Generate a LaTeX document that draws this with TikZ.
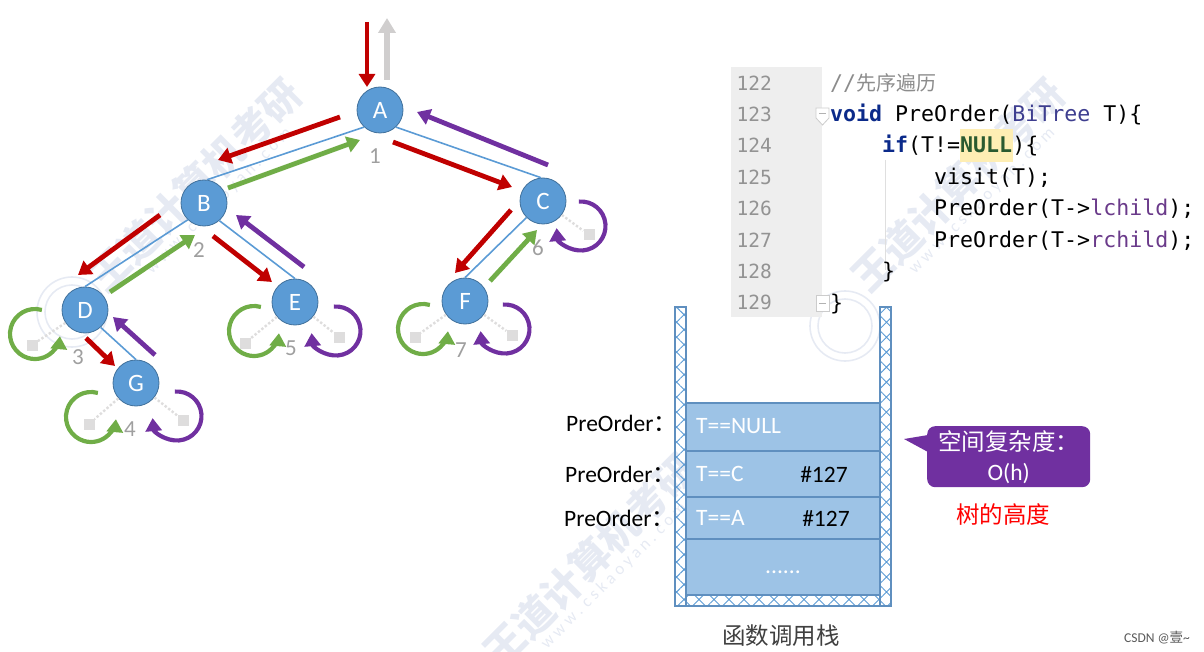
\documentclass[tikz,border=0pt]{standalone}
\usepackage{fontspec}
\setmainfont{Carlito}
\setmonofont{DejaVu Sans Mono}
\newfontfamily\cjk{Noto Sans CJK SC}
\usetikzlibrary{arrows.meta,calc,patterns.meta}
\definecolor{treeblue}{HTML}{5B9BD5}
\definecolor{treeedge}{HTML}{41719C}
\definecolor{redpin}{HTML}{C00000}
\definecolor{greenpin}{HTML}{70AD47}
\definecolor{purplepin}{HTML}{7030A0}
\definecolor{graypin}{HTML}{D0CECE}
\definecolor{framefill}{HTML}{9DC3E6}
\definecolor{frameedge}{HTML}{5F8FBF}
\definecolor{kwblue}{HTML}{0B2A8A}
\definecolor{typeblue}{HTML}{3E3E8F}
\definecolor{fieldpurple}{HTML}{6A3A8A}
\definecolor{nullgreen}{HTML}{2A5A30}
\definecolor{mark}{HTML}{E6EAF3}
\tikzset{pin/.style={line width=4.8pt,-{Triangle[length=13pt,width=16pt]}},
  loopl/.style={pin,greenpin,line width=4.2pt},
  loopr/.style={pin,purplepin,line width=4.2pt},
  tnode/.style={circle,draw=treeedge,thick,fill=treeblue,minimum size=46pt,inner sep=0pt,text=white,font=\fontsize{25}{25}\selectfont},
  tedge/.style={treeblue,line width=1.6pt},
  nullbox/.style={fill=graypin!70,minimum size=11pt,inner sep=0pt},
  nullline/.style={graypin!70,line width=2.4pt,dotted},
  seq/.style={text=gray!75,font=\fontsize{23}{23}\selectfont},
  lineno/.style={anchor=west,text=gray!85,font=\ttfamily\fontsize{19.5}{20}\selectfont},
  codeln/.style={anchor=west,inner sep=0pt,text height=18pt,text depth=2pt,font=\ttfamily\fontsize{21.6}{22}\selectfont},
  fold/.style={draw=gray!40,fill=white,line width=.8pt},
  wall/.style={draw=frameedge,line width=1.2pt,pattern={Hatch[distance=10.6pt,angle=45,line width=.9pt,xshift=2pt]},pattern color=treeblue},
  frame/.style={draw=frameedge,line width=1.5pt,fill=framefill,minimum width=194pt,inner sep=0pt,outer sep=0pt,anchor=north west},
  stacktext/.style={text=white,font=\fontsize{23.5}{24}\selectfont},
  calltext/.style={font=\fontsize{23.5}{24}\selectfont},
  wmark/.style={text=mark,rotate=45,font=\cjk\bfseries\fontsize{40}{40}\selectfont},
  wsite/.style={text=mark,rotate=45,font=\fontsize{17}{17}\selectfont},
  wseal/.style={draw=mark,line width=1.6pt}}
\begin{document}
\begin{tikzpicture}[x=1pt,y=-1pt]
  \useasboundingbox (0,0) rectangle (1204,652);
  \begin{scope}
    \clip (0,0) rectangle (1204,652);
    \foreach \i/\cx/\cy in {a/195/185, b/590/560, c/958/185}{
      \node[wmark] (wm\i) at (\cx,\cy) {王道计算机考研};
      \node[wsite] (ws\i) at (\cx+24,\cy+16) {w w w . c s k a o y a n . c o m};
    }
    \foreach \x/\y in {72/312, 845/326}{
      \draw[wseal] (\x,\y) circle (35);
      \draw[wseal] (\x,\y) circle (27);
    }
  \end{scope}
  % tree
  \node[tnode] (A) at (380,110) {A};
  \node[tnode] (B) at (204,203) {B};
  \node[tnode] (C) at (543,201) {C};
  \node[tnode] (D) at (85,310) {D};
  \node[tnode] (E) at (295,302) {E};
  \node[tnode] (F) at (465,301) {F};
  \node[tnode] (G) at (136,383) {G};
  \foreach \a/\aa/\b/\ba in {A/227/B/83, A/313/C/95, B/226/D/90, B/311/E/90, C/225/F/90, D/312/G/90}{
    \draw[tedge] (\a.\aa) -- (\b.\ba);
  }
  \foreach \n/\t/\x/\y in {s1/1/375/156, s2/2/199/250, s3/3/78/357, s4/4/130/429, s5/5/291/348, s6/6/538/248, s7/7/461/350}{
    \node[seq] (\n) at (\x,\y) {\t};
  }
  \foreach \a/\ax/\ay/\b/\bx/\by in {A/-40/7/B/14/-43, A/13/32/C/-31/-14, B/-44/12/D/-7/-35, B/9/33/E/-23/-20, C/-32/9/F/-10/-28, D/1/28/G/-21/-17}{
    \draw[pin,redpin] ($(\a)+(\ax,\ay)$) -- ($(\b)+(\bx,\by)$);
  }
  \foreach \a/\ax/\ay/\b/\bx/\by in {B/24/-15/A/-20/30, D/25/-18/B/-9/32, F/25/-20/C/-6/29}{
    \draw[pin,greenpin] ($(\a)+(\ax,\ay)$) -- ($(\b)+(\bx,\by)$);
  }
  \foreach \a/\ax/\ay/\b/\bx/\by in {C/5/-36/A/37/2, E/9/-35/B/32/12, G/19/-28/D/28/7}{
    \draw[pin,purplepin] ($(\a)+(\ax,\ay)$) -- ($(\b)+(\bx,\by)$);
  }
  \coordinate (in) at (367,22);
  \coordinate (out) at (387,18);
  \draw[pin,redpin] (in) -- ($(A)+(-13,-23)$);
  \draw[pin,graypin,line width=6.5pt,-{Triangle[length=15pt,width=17pt]}] ($(A)+(7,-30)$) -- (out);
  % null children
  \foreach \n/\dx/\dy/\cx/\cy in {D/-53/35/-50/24, E/-50/41/-41/29, F/-50/36/-42/28, G/-47/41/-45/34}{
    \node[nullbox] (\n l) at ($(\n)+(\dx,\dy)$) {};
    \draw[nullline] (\n) -- (\n l);
    \draw[loopl] ($(\n)+(\cx,\cy)+(-74:25)$) arc (-74:-355:25);
  }
  \foreach \n/\dx/\dy/\cx/\cy in {C/46/34/38/25, E/44/35/41/29, F/47/34/40/28, G/47/37/41/33}{
    \node[nullbox] (\n r) at ($(\n)+(\dx,\dy)$) {};
    \draw[nullline] (\n) -- (\n r);
    \draw[loopr] ($(\n)+(\cx,\cy)+(-95:24.5)$) arc (-95:175:24.5);
  }
  % code
  \node[fill=gray!13,minimum width=91pt,minimum height=250pt,inner sep=0pt,anchor=north west] (gutter) at (731,67) {};
  \node[fill=yellow!60!orange!28,minimum width=53pt,minimum height=33pt,inner sep=0pt] (hl) at (986.5,145.5) {};
  \foreach \t/\y in {122/83, 123/114, 124/145, 125/177, 126/208, 127/240, 128/271, 129/302}{
    \node[lineno] (n\t) at (733,\y) {\t};
  }
  \draw[gray!25,line width=.8pt] (885,160) -- (885,270);
  \draw[fold] (816,108) -- (829,108) -- (829,118) -- (822.5,125) -- (816,118) -- cycle;
  \draw[fold] (816,295) -- (829,295) -- (829,311) -- (816,311) -- cycle;
  \draw[gray!60,line width=.8pt] (819,113.5) -- (826,113.5) (819,303) -- (826,303);
  \node[codeln,text=gray!90] (l122) at (830,83) {//{\cjk\fontsize{20}{20}\selectfont 先序遍历}};
  \node[codeln] (l123) at (830,114) {\textcolor{kwblue}{\bfseries void} PreOrder(\textcolor{typeblue}{BiTree} T)\{};
  \node[codeln] (l124) at (882,145) {\textcolor{kwblue}{\bfseries if}(T!=\textcolor{nullgreen}{\bfseries NULL})\{};
  \node[codeln] (l125) at (934,177) {visit(T);};
  \node[codeln] (l126) at (934,208) {PreOrder(T->\textcolor{fieldpurple}{lchild});};
  \node[codeln] (l127) at (934,240) {PreOrder(T->\textcolor{fieldpurple}{rchild});};
  \node[codeln] (l128) at (882,271) {\}};
  \node[codeln] (l129) at (830,302) {\}};
  % stack
  \draw[wall] (675,307) rectangle (686,606);
  \draw[wall] (880,307) rectangle (891,606);
  \draw[wall] (686,595) rectangle (880,606);
  \node[frame,minimum height=48pt] (f1) at (686,403) {};
  \node[frame,minimum height=46pt] (f2) at (f1.south west) {};
  \node[frame,minimum height=42pt] (f3) at (f2.south west) {};
  \node[frame,minimum height=56pt] (f4) at (f3.south west) {};
  \node[stacktext,anchor=west,inner sep=0pt] (t1) at (696,426) {T==NULL};
  \node[stacktext,anchor=west,inner sep=0pt] (t2) at (696,474) {T==C};
  \node[stacktext,anchor=west,inner sep=0pt] (t3) at (696,518) {T==A};
  \node[stacktext] (t4) at ($(f4.center)+(0,5)$) {......};
  \node[calltext] (r2) at (824,475) {\#127};
  \node[calltext] (r3) at (826,519) {\#127};
  \foreach \n/\x/\y in {p1/566/423, p2/565/474, p3/564/518}{
    \node[calltext,anchor=west,inner sep=0pt] (\n) at (\x,\y) {PreOrder{\cjk ：}};
  }
  \node[text=black!75,calltext] (stackname) at (781,636) {\cjk 函数调用栈};
  % callout
  \node[fill=purplepin,rounded corners=8pt,minimum width=163pt,minimum height=61pt,inner sep=0pt,align=center,text=white,calltext,anchor=north west] (space) at (927,426) {{\cjk 空间复杂度：}\\[6pt]O(h)};
  \coordinate (tip) at (904,439);
  \fill[purplepin] (tip) -- ($(space.north west)+(1,9)$) -- ($(space.north west)+(1,26)$) -- cycle;
  \node[text=red,calltext] (height) at (1003,515) {\cjk 树的高度};
  \node[text=gray!70!black,font=\fontsize{13.5}{14}\selectfont] (csdn) at (1157,638) {CSDN @{\cjk 壹}\textasciitilde};
\end{tikzpicture}
\end{document}
